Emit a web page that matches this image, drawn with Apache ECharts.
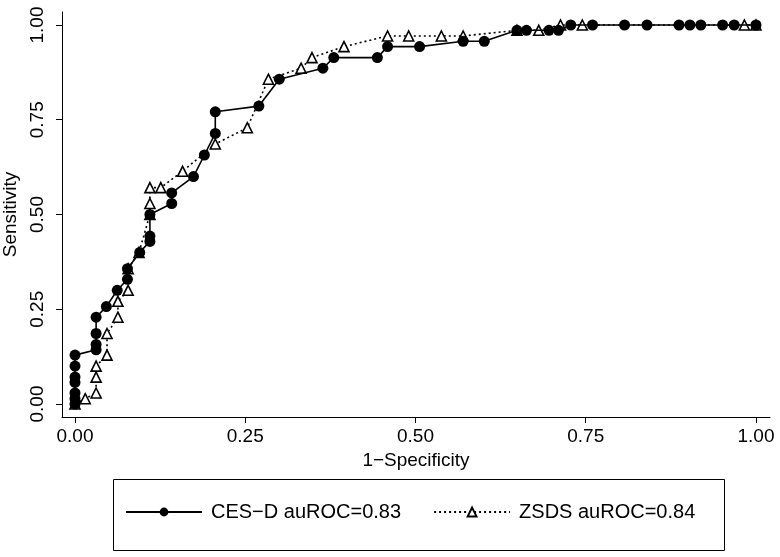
<!DOCTYPE html>
<html>
<head>
<meta charset="utf-8">
<script src="https://cdn.jsdelivr.net/npm/echarts@6/dist/echarts.min.js"></script>
<style>html,body{margin:0;padding:0;background:#fff}#c{width:780px;height:557px}</style>
</head>
<body>
<div id="c"></div>
<script>
var tickValues = [0, 0.25, 0.5, 0.75, 1];
var cesdX = [0,0,0,0,0,0,0,0.031,0.031,0.031,0.031,0.046,0.062,0.077,0.077,0.095,0.11,0.11,0.11,0.142,0.142,0.174,0.19,0.206,0.206,0.27,0.30,0.364,0.38,0.444,0.459,0.506,0.57,0.601,0.649,0.663,0.696,0.71,0.728,0.76,0.807,0.84,0.887,0.903,0.919,0.951,0.968,1];
var cesdY = [0,0.014,0.029,0.057,0.071,0.1,0.129,0.143,0.157,0.186,0.229,0.257,0.3,0.329,0.357,0.4,0.429,0.443,0.5,0.529,0.557,0.6,0.657,0.714,0.771,0.786,0.857,0.886,0.914,0.914,0.943,0.943,0.957,0.957,0.986,0.986,0.986,0.986,1,1,1,1,1,1,1,1,1,1];
var zsdsX = [0,0.015,0.031,0.031,0.031,0.047,0.047,0.063,0.063,0.078,0.078,0.094,0.11,0.11,0.11,0.126,0.158,0.206,0.253,0.284,0.332,0.348,0.395,0.459,0.49,0.538,0.57,0.649,0.681,0.713,0.745,0.983,1];
var zsdsY = [0,0.014,0.029,0.071,0.1,0.129,0.186,0.229,0.271,0.3,0.357,0.4,0.5,0.529,0.571,0.571,0.614,0.686,0.729,0.857,0.886,0.914,0.943,0.971,0.971,0.971,0.971,0.986,0.986,1,1,1,1];
var seriesNames = ['CES\u2212D auROC=0.83', 'ZSDS auROC=0.84'];
var xTitle = '1\u2212Specificity';
var yTitle = 'Sensitivity';

function pairs(xs, ys){ return xs.map(function(x,i){ return [x, ys[i]]; }); }
var FONT = "'Liberation Sans',Arial,Helvetica,sans-serif";

var chart = echarts.init(document.getElementById('c'), null, {renderer:'canvas'});
chart.setOption({
  animation: false,
  backgroundColor: '#fff',
  grid: {left: 62, right: 10, top: 12, bottom: 140, containLabel: false, outerBoundsMode: 'none'},
  xAxis: {
    type: 'value', min: -0.0191, max: 1.0206,
    name: xTitle, nameLocation: 'middle', nameGap: 34,
    nameTextStyle: {fontFamily: FONT, fontSize: 19, color: '#000'},
    axisLine: {show: true, onZero: false, lineStyle: {color: '#000', width: 1}},
    axisTick: {show: true, length: 6, customValues: tickValues, lineStyle: {color: '#000'}},
    axisLabel: {customValues: tickValues, margin: 10, fontFamily: FONT, fontSize: 19, color: '#000',
      formatter: function(v){ return v.toFixed(2); }},
    splitLine: {show: false}
  },
  yAxis: {
    type: 'value', min: -0.0343, max: 1.0343,
    name: yTitle, nameLocation: 'middle', nameGap: 30,
    nameTextStyle: {fontFamily: FONT, fontSize: 19, color: '#000'},
    axisLine: {show: true, onZero: false, lineStyle: {color: '#000', width: 1}},
    axisTick: {show: true, length: 6, customValues: tickValues, lineStyle: {color: '#000'}},
    axisLabel: {customValues: tickValues, rotate: 90, margin: 15, fontFamily: FONT, fontSize: 19, color: '#000',
      formatter: function(v){ return v.toFixed(2); }},
    splitLine: {show: false}
  },
  legend: {
    left: 120, top: 497, itemWidth: 76, itemHeight: 11, itemGap: 32,
    textStyle: {fontFamily: FONT, fontSize: 20, color: '#000', padding: [0, 0, 0, 4]},
    data: seriesNames
  },
  graphic: [{
    type: 'rect', left: 111, top: 477, silent: true,
    shape: {width: 611, height: 71},
    style: {fill: 'none', stroke: '#000', lineWidth: 1}
  }],
  series: [
    {
      name: seriesNames[1], type: 'line', z: 2,
      data: pairs(zsdsX, zsdsY),
      symbol: 'triangle', symbolSize: 10,
      itemStyle: {color: '#fff', borderColor: '#000', borderWidth: 1.6},
      lineStyle: {color: '#000', width: 1.6, type: [2, 3]}
    },
    {
      name: seriesNames[0], type: 'line', z: 3,
      data: pairs(cesdX, cesdY),
      symbol: 'circle', symbolSize: 11,
      itemStyle: {color: '#000', borderColor: '#000', borderWidth: 0},
      lineStyle: {color: '#000', width: 1.6, type: 'solid'}
    }
  ]
});
</script>
</body>
</html>
